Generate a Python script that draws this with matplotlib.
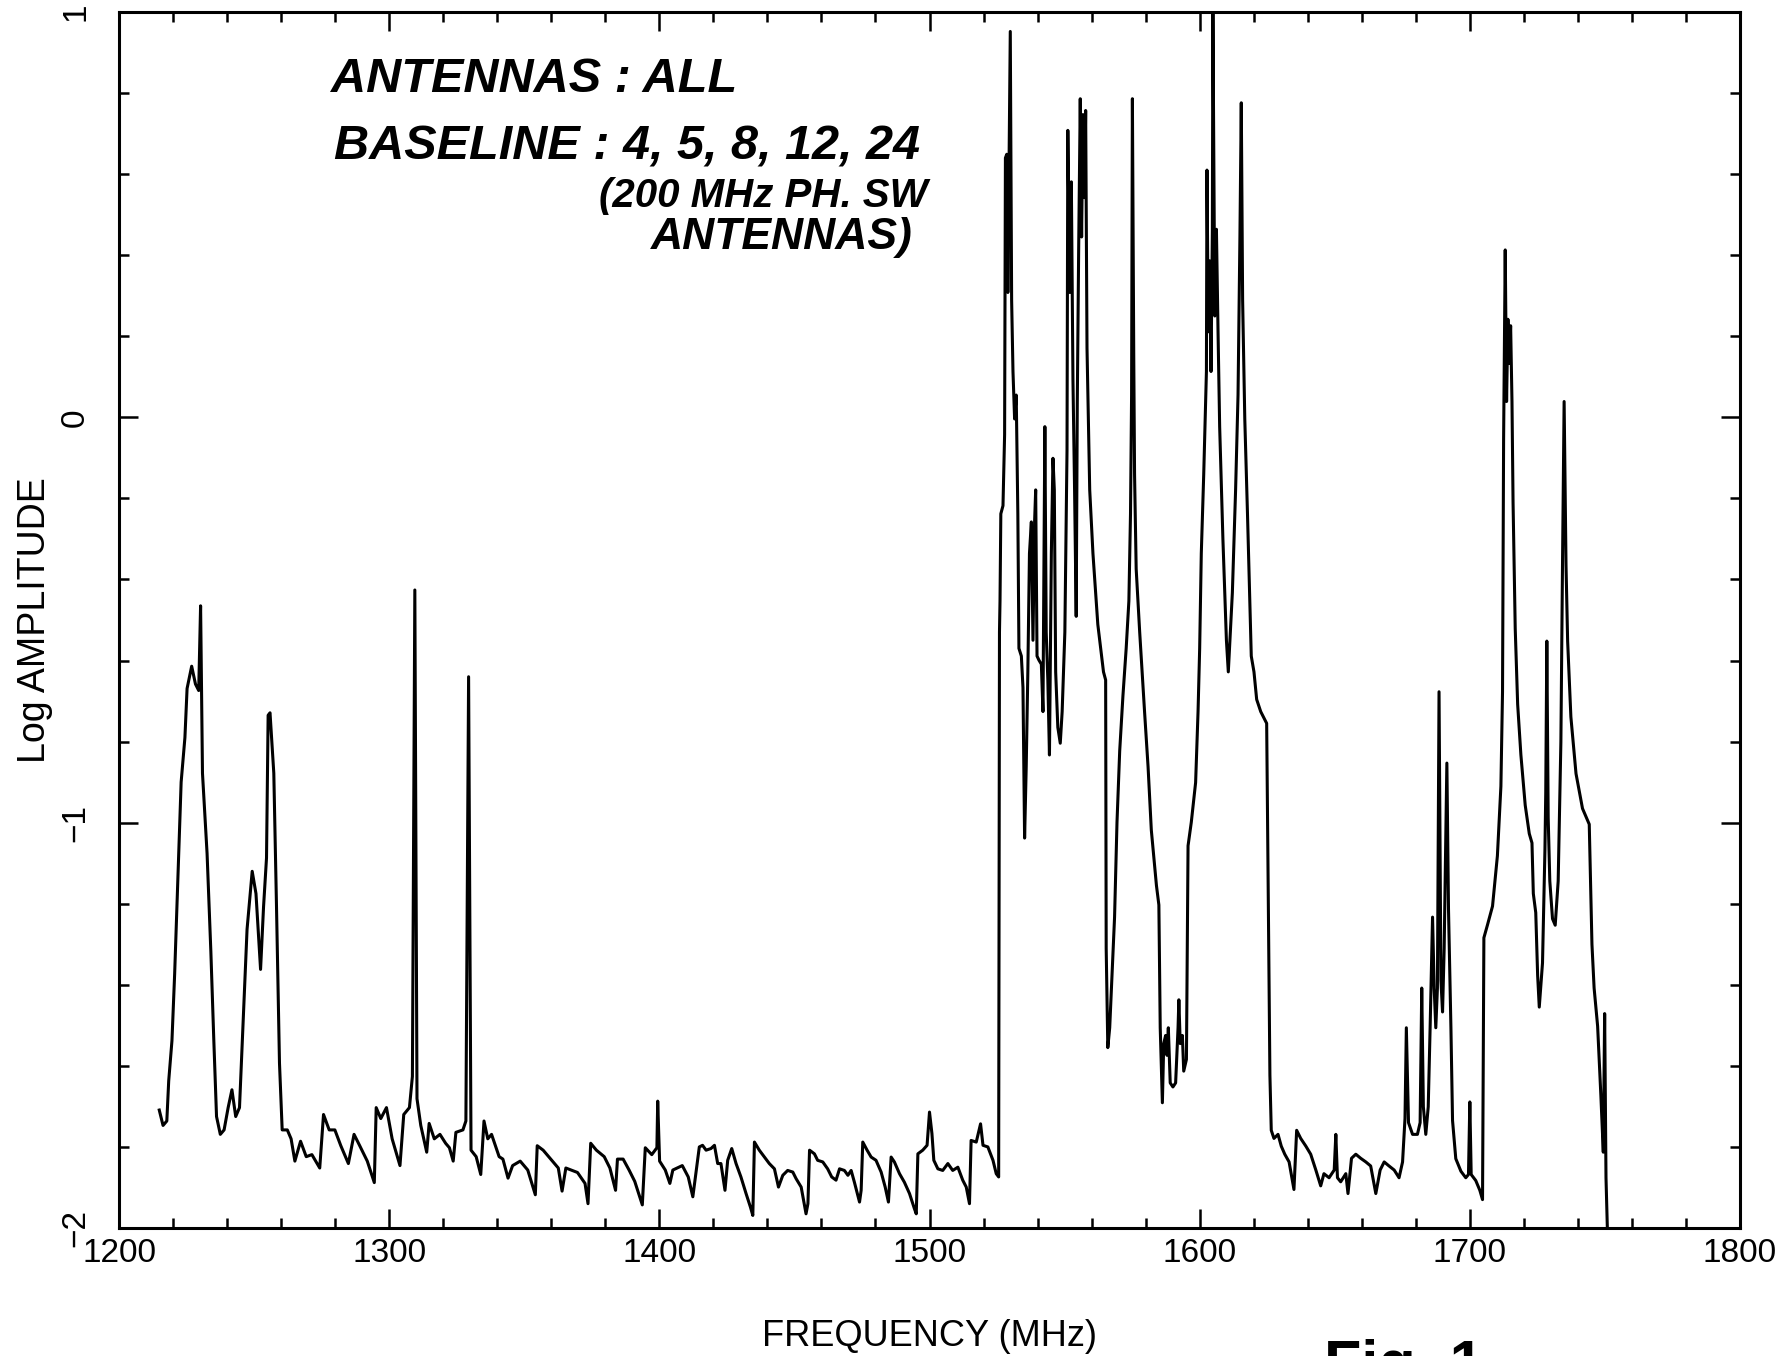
import matplotlib
matplotlib.use('Agg')
import matplotlib.pyplot as plt
from matplotlib.ticker import MultipleLocator

# spectrum (frequency in MHz, log amplitude)
freq = [1214.9, 1216.3, 1217.7, 1218.4, 1219.6, 1220.6, 1222.0, 1223.0, 1224.4, 1225.2,
        1226.9, 1228.3, 1229.5, 1230.2, 1230.9, 1232.6, 1234.0, 1235.1, 1236.1, 1237.5,
        1238.9, 1240.4, 1241.8, 1243.2, 1244.6, 1246.0, 1247.4, 1249.3, 1250.7, 1252.4,
        1253.5, 1254.6, 1255.2, 1255.9, 1257.3, 1258.3, 1259.4, 1260.4, 1262.3, 1263.7,
        1265.1, 1267.2, 1269.3, 1271.4, 1274.3, 1275.7, 1277.8, 1279.9, 1282.1, 1284.9,
        1287.0, 1289.1, 1291.9, 1294.5, 1295.2, 1296.9, 1299.0, 1301.1, 1304.0, 1305.4,
        1307.5, 1308.6, 1309.5, 1310.3, 1311.7, 1313.9, 1314.8, 1316.7, 1318.8, 1320.9,
        1322.3, 1323.7, 1324.7, 1327.3, 1328.4, 1329.4, 1330.3, 1332.2, 1333.9, 1335.1,
        1336.5, 1337.9, 1340.7, 1342.1, 1344.0, 1345.7, 1348.5, 1351.3, 1354.1, 1354.8,
        1357.0, 1359.8, 1362.6, 1364.0, 1365.4, 1369.7, 1372.5, 1373.6, 1374.6, 1376.7,
        1379.6, 1381.7, 1383.8, 1384.5, 1386.6, 1388.8, 1390.9, 1393.7, 1394.8, 1397.2,
        1399.1, 1399.4, 1400.1, 1402.2, 1403.9, 1405.0, 1408.5, 1410.7, 1412.4, 1414.8,
        1416.0, 1417.3, 1419.1, 1420.4, 1421.6, 1422.8, 1424.3, 1425.3, 1426.8, 1428.4,
        1430.2, 1432.1, 1433.7, 1434.6, 1435.2, 1437.0, 1438.9, 1440.7, 1442.6, 1444.1,
        1445.7, 1447.5, 1449.4, 1450.6, 1452.5, 1454.3, 1455.0, 1455.6, 1457.4, 1458.6,
        1460.5, 1462.3, 1463.8, 1465.4, 1466.7, 1468.5, 1469.8, 1471.0, 1472.2, 1474.1,
        1474.7, 1475.3, 1476.9, 1478.4, 1480.2, 1482.1, 1483.6, 1484.8, 1485.8, 1487.0,
        1488.9, 1490.7, 1492.6, 1494.4, 1495.1, 1495.7, 1497.5, 1499.1, 1500.0, 1500.9,
        1501.6, 1503.1, 1504.9, 1506.8, 1508.6, 1510.5, 1512.3, 1513.6, 1514.8, 1515.4,
        1517.3, 1518.9, 1519.8, 1521.6, 1523.5, 1524.7, 1525.6, 1525.9, 1526.1, 1526.4,
        1527.2, 1527.8, 1528.1, 1528.6, 1529.0, 1529.9, 1530.4, 1530.9, 1531.5, 1532.1,
        1532.7, 1533.1, 1534.0, 1534.6, 1535.2, 1535.8, 1536.4, 1537.0, 1537.7, 1538.3,
        1538.9, 1539.3, 1539.8, 1540.5, 1541.4, 1542.0, 1542.7, 1543.2, 1543.8, 1544.4,
        1545.1, 1545.7, 1546.2, 1546.7, 1547.5, 1548.4, 1549.1, 1550.1, 1550.9, 1551.2,
        1551.9, 1552.5, 1553.1, 1553.7, 1554.3, 1554.7, 1555.2, 1555.8, 1556.3, 1556.8,
        1557.4, 1557.8, 1558.3, 1559.3, 1560.5, 1562.3, 1564.4, 1565.2, 1565.4, 1566.0,
        1566.7, 1568.5, 1569.4, 1570.4, 1571.6, 1572.8, 1573.8, 1574.4, 1574.8, 1575.1,
        1575.6, 1575.9, 1576.5, 1577.8, 1579.6, 1580.9, 1582.1, 1584.0, 1584.9, 1585.4,
        1586.2, 1586.7, 1587.4, 1587.9, 1588.4, 1589.1, 1590.1, 1591.1, 1592.0, 1592.3,
        1592.8, 1593.6, 1594.1, 1595.1, 1595.7, 1596.9, 1598.5, 1599.4, 1600.0, 1600.6,
        1601.5, 1602.5, 1602.7, 1603.2, 1603.7, 1604.2, 1604.7, 1604.9, 1605.6, 1606.2,
        1606.8, 1607.4, 1608.6, 1609.9, 1610.6, 1612.1, 1613.3, 1614.2, 1614.9, 1615.4,
        1615.9, 1616.7, 1617.7, 1619.1, 1620.1, 1621.1, 1622.6, 1624.8, 1625.3, 1626.0,
        1626.5, 1627.5, 1629.0, 1630.2, 1631.5, 1633.1, 1634.9, 1635.9, 1637.4, 1639.3,
        1641.1, 1643.0, 1644.8, 1646.0, 1647.9, 1649.8, 1650.4, 1651.0, 1652.2, 1654.1,
        1654.9, 1656.2, 1657.8, 1659.6, 1661.5, 1663.3, 1665.2, 1666.8, 1668.3, 1670.1,
        1672.0, 1673.8, 1675.1, 1676.0, 1676.5, 1677.3, 1678.8, 1680.6, 1681.6, 1682.2,
        1682.8, 1683.7, 1684.6, 1685.3, 1686.2, 1686.8, 1687.4, 1688.0, 1688.6, 1689.3,
        1689.9, 1690.5, 1691.5, 1692.1, 1693.0, 1693.6, 1694.8, 1696.7, 1698.5, 1699.5,
        1700.0, 1700.5, 1702.2, 1703.7, 1704.7, 1705.2, 1706.5, 1708.4, 1710.2, 1711.5,
        1712.1, 1712.5, 1713.1, 1713.6, 1714.1, 1714.6, 1715.1, 1715.6, 1716.0, 1716.8,
        1717.7, 1718.9, 1720.5, 1722.0, 1723.0, 1723.5, 1724.4, 1725.1, 1725.7, 1726.9,
        1727.8, 1728.1, 1728.5, 1729.0, 1729.6, 1730.6, 1731.6, 1732.7, 1733.7, 1734.3,
        1734.9, 1735.6, 1736.2, 1737.4, 1739.3, 1741.7, 1743.2, 1744.2, 1745.2, 1746.0,
        1747.3, 1748.5, 1749.4, 1749.9, 1750.4, 1750.9]

log_amp = [-1.709, -1.747, -1.736, -1.637, -1.538, -1.373, -1.098, -0.900, -0.790, -0.669,
           -0.614, -0.658, -0.674, -0.465, -0.878, -1.076, -1.318, -1.538, -1.725, -1.769,
           -1.758, -1.703, -1.659, -1.725, -1.703, -1.483, -1.263, -1.120, -1.175, -1.362,
           -1.208, -1.087, -0.735, -0.729, -0.878, -1.208, -1.593, -1.758, -1.758, -1.780,
           -1.835, -1.786, -1.824, -1.819, -1.852, -1.720, -1.758, -1.758, -1.797, -1.841,
           -1.769, -1.797, -1.835, -1.888, -1.703, -1.730, -1.703, -1.780, -1.846, -1.720,
           -1.703, -1.626, -0.426, -1.681, -1.747, -1.813, -1.742, -1.780, -1.769, -1.791,
           -1.802, -1.835, -1.764, -1.758, -1.736, -0.640, -1.808, -1.824, -1.868, -1.736,
           -1.780, -1.769, -1.824, -1.830, -1.877, -1.846, -1.835, -1.857, -1.918, -1.797,
           -1.808, -1.830, -1.852, -1.909, -1.852, -1.863, -1.890, -1.940, -1.791, -1.808,
           -1.824, -1.852, -1.907, -1.830, -1.830, -1.857, -1.885, -1.943, -1.802, -1.819,
           -1.802, -1.687, -1.835, -1.857, -1.890, -1.857, -1.846, -1.874, -1.923, -1.800,
           -1.796, -1.808, -1.804, -1.796, -1.841, -1.841, -1.907, -1.833, -1.804, -1.841,
           -1.874, -1.915, -1.948, -1.969, -1.788, -1.808, -1.825, -1.841, -1.854, -1.899,
           -1.870, -1.858, -1.862, -1.878, -1.899, -1.965, -1.940, -1.808, -1.817, -1.833,
           -1.837, -1.854, -1.874, -1.882, -1.854, -1.858, -1.870, -1.858, -1.887, -1.936,
           -1.907, -1.788, -1.808, -1.825, -1.833, -1.862, -1.899, -1.936, -1.825, -1.837,
           -1.866, -1.887, -1.915, -1.952, -1.965, -1.817, -1.808, -1.796, -1.714, -1.767,
           -1.833, -1.854, -1.858, -1.841, -1.858, -1.850, -1.882, -1.899, -1.940, -1.784,
           -1.788, -1.743, -1.796, -1.800, -1.833, -1.866, -1.874, -0.530, -0.453, -0.238,
           -0.218, -0.043, 0.640, 0.649, 0.308, 0.952, 0.289, 0.113, -0.004, 0.055,
           -0.238, -0.570, -0.589, -0.667, -1.038, -0.862, -0.628, -0.336, -0.258, -0.550,
           -0.258, -0.179, -0.589, -0.599, -0.609, -0.726, -0.023, -0.530, -0.648, -0.833,
           -0.336, -0.101, -0.179, -0.628, -0.765, -0.804, -0.726, -0.530, -0.082, 0.708,
           0.308, 0.581, 0.093, -0.179, -0.491, 0.035, 0.406, 0.786, 0.445, 0.747,
           0.542, 0.757, 0.171, -0.179, -0.336, -0.511, -0.628, -0.648, -1.310, -1.555,
           -1.506, -1.233, -0.999, -0.823, -0.687, -0.570, -0.453, -0.238, 0.055, 0.786,
           0.152, -0.141, -0.374, -0.530, -0.726, -0.862, -1.018, -1.155, -1.203, -1.506,
           -1.691, -1.545, -1.525, -1.574, -1.506, -1.642, -1.652, -1.642, -1.506, -1.437,
           -1.545, -1.525, -1.613, -1.584, -1.057, -0.999, -0.901, -0.726, -0.570, -0.336,
           -0.141, 0.113, 0.610, 0.211, 0.386, 0.113, 0.464, 1.000, 0.250, 0.464,
           0.211, -0.023, -0.300, -0.550, -0.628, -0.433, -0.179, 0.055, 0.445, 0.776,
           0.289, -0.004, -0.238, -0.589, -0.628, -0.696, -0.726, -0.755, -1.115, -1.623,
           -1.759, -1.779, -1.769, -1.798, -1.818, -1.837, -1.905, -1.759, -1.779, -1.798,
           -1.818, -1.857, -1.896, -1.866, -1.876, -1.857, -1.769, -1.876, -1.886, -1.866,
           -1.915, -1.828, -1.818, -1.828, -1.837, -1.847, -1.915, -1.857, -1.837, -1.847,
           -1.857, -1.876, -1.837, -1.730, -1.506, -1.740, -1.769, -1.769, -1.740, -1.408,
           -1.701, -1.769, -1.701, -1.506, -1.233, -1.408, -1.506, -1.408, -0.677, -1.389,
           -1.467, -1.310, -0.853, -1.213, -1.506, -1.735, -1.829, -1.860, -1.876, -1.868,
           -1.689, -1.868, -1.883, -1.907, -1.930, -1.284, -1.253, -1.206, -1.082, -0.910,
           -0.677, -0.054, 0.413, 0.039, 0.242, 0.133, 0.226, 0.039, -0.210, -0.521,
           -0.708, -0.833, -0.957, -1.027, -1.050, -1.175, -1.222, -1.377, -1.455, -1.346,
           -1.066, -0.926, -0.552, -0.988, -1.144, -1.237, -1.253, -1.144, -0.801, -0.365,
           0.039, -0.365, -0.552, -0.739, -0.879, -0.965, -0.988, -1.004, -1.300, -1.408,
           -1.502, -1.673, -1.813, -1.471, -1.876, -2.000]

xtick_pos = [1200, 1300, 1400, 1500, 1600, 1700, 1800]
xtick_txt = ['1200', '1300', '1400', '1500', '1600', '1700', '1800']
ytick_pos = [-2, -1, 0, 1]
ytick_txt = ['\u22122', '\u22121', '0', '1']

notes = ['ANTENNAS : ALL', 'BASELINE : 4, 5, 8, 12, 24', '(200 MHz PH. SW', 'ANTENNAS)']

plt.rc('font', family='Liberation Sans')

W, H = 1790, 1356
fig = plt.figure(figsize=(W / 100, H / 100), dpi=100, facecolor='white')
ax = fig.add_axes([119 / W, 1 - 1228 / H, (1740 - 119) / W, (1228 - 12) / H])

ax.plot(freq, log_amp, color='black', linewidth=2.2)

ax.set_xlim(1200, 1800)
ax.set_ylim(-2, 1)
ax.set_xticks(xtick_pos)
ax.set_xticklabels(xtick_txt, fontsize=24)
ax.set_yticks(ytick_pos)
ax.set_yticklabels(ytick_txt, fontsize=24, rotation=90, va='center')
ax.xaxis.set_minor_locator(MultipleLocator(20))
ax.yaxis.set_minor_locator(MultipleLocator(0.2))
ax.tick_params(which='both', direction='in', top=True, right=True, width=1.8)
ax.tick_params(which='major', length=14)
ax.tick_params(which='minor', length=7)
ax.tick_params(axis='x', pad=7)
ax.tick_params(axis='y', pad=20)
for s in ax.spines.values():
    s.set_linewidth(2.2)

ax.set_xlabel('FREQUENCY (MHz)', fontsize=26, labelpad=36)
ax.set_ylabel('Log AMPLITUDE', fontsize=27, labelpad=5)

# handwritten notes
hand = dict(weight='bold', style='italic', va='center', ha='left')
fig.text(331 / W, 1 - 80 / H, notes[0], fontsize=35, **hand)
fig.text(334 / W, 1 - 147 / H, notes[1], fontsize=35, **hand)
fig.text(599 / W, 1 - 196 / H, notes[2], fontsize=29, **hand)
fig.text(651 / W, 1 - 237 / H, notes[3], fontsize=32, **hand)
fig.text(1324 / W, 1 - 1383 / H, 'Fig. 1', fontsize=44, weight='bold', va='baseline', ha='left')

plt.savefig('out.png', dpi=100)
